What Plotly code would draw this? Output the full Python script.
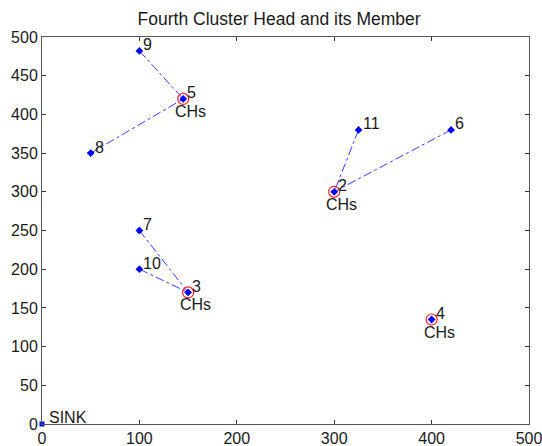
import plotly.graph_objects as go

node_ids = ["9", "5", "8", "2", "11", "6", "7", "10", "3", "4"]
node_x = [100, 145, 50, 300, 325, 420, 100, 100, 150, 400]
node_y = [482, 420, 350, 300, 380, 380, 250, 200, 170, 135]

ch_ids = ["5", "2", "3", "4"]
ch_x = [145, 300, 150, 400]
ch_y = [420, 300, 170, 135]

# member -> cluster head links
member_ids = ["9", "8", "11", "6", "7", "10"]
member_head = ["5", "5", "2", "2", "3", "3"]

sink_x = [0]
sink_y = [0]

xticks = [0, 100, 200, 300, 400, 500]
yticks = [0, 50, 100, 150, 200, 250, 300, 350, 400, 450, 500]

FONT = "Liberation Sans, Arial"
FS = 16
TXT = "#1a1a1a"

pos = {n: (x, y) for n, x, y in zip(node_ids, node_x, node_y)}

fig = go.Figure()

for m, h in zip(member_ids, member_head):
    fig.add_trace(go.Scatter(
        x=[pos[m][0], pos[h][0]], y=[pos[m][1], pos[h][1]],
        mode="lines", line=dict(color="#3a3aff", width=1, dash="dashdot"),
        hoverinfo="skip", showlegend=False))

fig.add_trace(go.Scatter(
    x=ch_x, y=ch_y, mode="markers",
    marker=dict(symbol="circle-open", size=11, color="#ff2020", line=dict(width=1.2)),
    showlegend=False))

fig.add_trace(go.Scatter(
    x=node_x, y=node_y, mode="markers",
    marker=dict(symbol="diamond", size=6, color="#0000ff"),
    showlegend=False))

fig.add_trace(go.Scatter(
    x=sink_x, y=sink_y, mode="markers",
    marker=dict(symbol="square", size=5, color="#0000ff"),
    cliponaxis=False, showlegend=False))

annotations = []
for n, x, y in zip(node_ids, node_x, node_y):
    annotations.append(dict(x=x, y=y, text=n, showarrow=False, xanchor="left", yanchor="middle",
                            xshift=2, yshift=6, font=dict(family=FONT, size=FS, color=TXT)))
for x, y in zip(ch_x, ch_y):
    annotations.append(dict(x=x, y=y, text="CHs", showarrow=False, xanchor="left", yanchor="top",
                            xshift=-10, yshift=-2, font=dict(family=FONT, size=FS, color=TXT)))
annotations.append(dict(x=sink_x[0], y=sink_y[0], text="SINK", showarrow=False, xanchor="left",
                        yanchor="middle", xshift=5, yshift=7, font=dict(family=FONT, size=FS, color=TXT)))

axis_common = dict(
    showgrid=False, zeroline=False, showline=True, linecolor="#555", linewidth=1,
    mirror="ticks", ticks="inside", ticklen=4, tickcolor="#333", automargin=False,
    ticklabeloverflow="allow",
    tickfont=dict(family=FONT, size=FS, color=TXT),
)

fig.update_layout(
    width=542, height=446,
    margin=dict(l=42, r=13, t=37, b=22),
    paper_bgcolor="white", plot_bgcolor="white",
    title=dict(text="Fourth Cluster Head and its Member", x=0.515, xanchor="center",
               y=1 - 19 / 446, yanchor="middle",
               font=dict(family=FONT, size=17.5, color=TXT)),
    xaxis=dict(range=[0, 500], tickvals=xticks, **axis_common),
    yaxis=dict(range=[0, 500], tickvals=yticks, **axis_common),
    annotations=annotations,
)

fig.write_html("out.html")
